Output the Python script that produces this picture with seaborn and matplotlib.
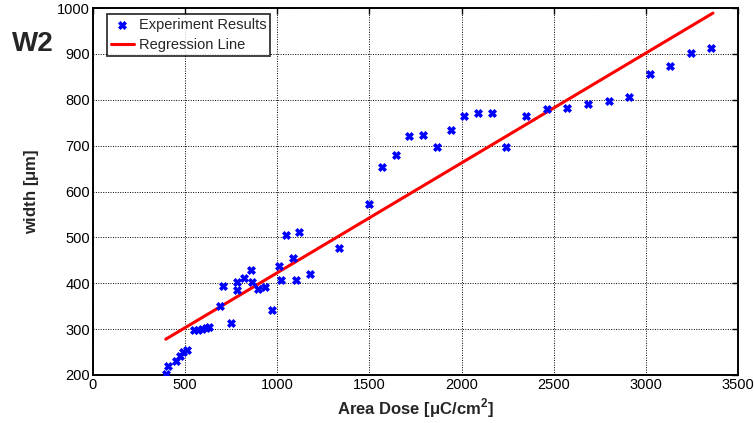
import matplotlib
matplotlib.use("Agg")
import matplotlib.pyplot as plt
import seaborn as sns
import pandas as pd
import numpy as np

dose = [395, 409, 451, 470, 490, 508, 548, 570, 591, 613, 631, 689, 707, 748,
        782, 782, 818, 858, 865, 896, 934, 970, 1008, 1022, 1047, 1083, 1100,
        1120, 1175, 1336, 1500, 1566, 1642, 1716, 1792, 1864, 1942, 2015, 2091,
        2165, 2241, 2351, 2462, 2574, 2686, 2800, 2911, 3023, 3131, 3245, 3353]
width = [202, 220, 230, 242, 251, 255, 298, 299, 300, 302, 304, 351, 395, 313,
         403, 385, 411, 429, 403, 387, 392, 342, 437, 406, 506, 455, 406,
         512, 421, 477, 572, 653, 680, 720, 724, 696, 734, 765, 771,
         771, 698, 764, 780, 782, 790, 798, 806, 856, 873, 902, 912]

reg_x = [395, 3364]
reg_y = [278, 989]

sns.set_style("white")
plt.rcParams['font.family'] = ['Liberation Sans', 'DejaVu Sans']

fig = plt.figure(figsize=(7.54, 4.23), dpi=100)
ax = fig.add_axes([0.1233, 0.1135, 0.8555, 0.8675])

df = pd.DataFrame({"dose": dose, "width": width})
sns.scatterplot(data=df, x="dose", y="width", ax=ax, marker="X", s=32,
                color="#0000ff", edgecolor="#0000ff", linewidth=0.6,
                label="Experiment Results", zorder=3)
sns.lineplot(x=reg_x, y=reg_y, ax=ax, color="red", linewidth=2.2,
             label="Regression Line", zorder=2)

ax.set_xlim(0, 3500)
ax.set_ylim(200, 1000)
ax.set_xticks(range(0, 3501, 500))
ax.set_yticks(range(200, 1001, 100))
ax.grid(True, linestyle=(0, (1, 1.5)), color="black", linewidth=0.7)
ax.tick_params(direction="in", top=True, right=True, length=4, width=1.0,
               labelsize=10.5, colors="black", pad=2)
for s in ax.spines.values():
    s.set_visible(True)
    s.set_color("black")
    s.set_linewidth(1.4)

ax.set_xlabel(r"Area Dose [$\mathregular{\mu}$C/cm$^\mathregular{2}$]", fontsize=12,
              fontweight="bold", labelpad=3)
ax.set_ylabel(r"width [$\mathregular{\mu}$m]", fontsize=12, fontweight="bold",
              labelpad=12)

leg = ax.legend(loc="upper left", bbox_to_anchor=(0.022, 0.983), frameon=True,
                fancybox=False, fontsize=10.5, borderpad=0.25, handlelength=1.6,
                handletextpad=0.3, labelspacing=0.45, borderaxespad=0.0)
leg.get_frame().set_edgecolor("black")
leg.get_frame().set_linewidth(1.3)

fig.text(0.044, 0.897, "W2", fontsize=20, fontweight="bold", ha="center",
         va="center")

fig.savefig("out.png", dpi=100)
